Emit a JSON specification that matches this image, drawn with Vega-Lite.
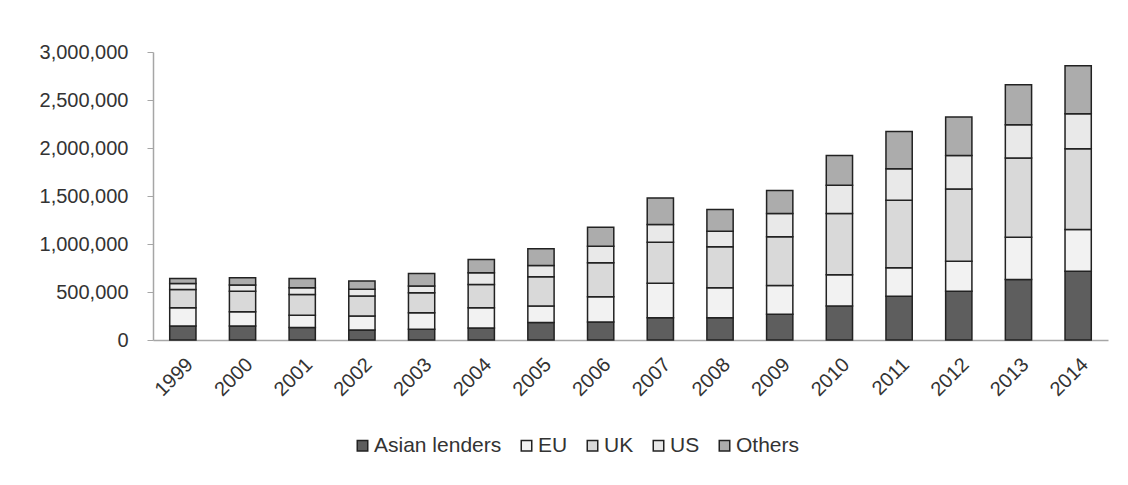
{
  "$schema": "https://vega.github.io/schema/vega-lite/v6.json",
  "autosize": "none",
  "width": 955,
  "height": 288,
  "padding": {"left": 153, "top": 52, "right": 20, "bottom": 145},
  "background": "white",
  "config": {
    "view": {"stroke": null},
    "font": "Liberation Sans",
    "axis": {"labelFont": "Liberation Sans", "labelColor": "#333333", "labelFontSize": 20, "domainColor": "#a6a6a6", "tickColor": "#a6a6a6", "grid": false, "title": null},
    "legend": {"labelFont": "Liberation Sans", "labelColor": "#333333", "labelFontSize": 21}
  },
  "data": {
    "values": [
      {"year": "1999", "lender": "Asian lenders", "k": 1, "value": 146000},
      {"year": "1999", "lender": "EU", "k": 2, "value": 191000},
      {"year": "1999", "lender": "UK", "k": 3, "value": 190000},
      {"year": "1999", "lender": "US", "k": 4, "value": 62000},
      {"year": "1999", "lender": "Others", "k": 5, "value": 52000},
      {"year": "2000", "lender": "Asian lenders", "k": 1, "value": 146000},
      {"year": "2000", "lender": "EU", "k": 2, "value": 149000},
      {"year": "2000", "lender": "UK", "k": 3, "value": 214000},
      {"year": "2000", "lender": "US", "k": 4, "value": 63000},
      {"year": "2000", "lender": "Others", "k": 5, "value": 77000},
      {"year": "2001", "lender": "Asian lenders", "k": 1, "value": 129000},
      {"year": "2001", "lender": "EU", "k": 2, "value": 128000},
      {"year": "2001", "lender": "UK", "k": 3, "value": 218000},
      {"year": "2001", "lender": "US", "k": 4, "value": 70000},
      {"year": "2001", "lender": "Others", "k": 5, "value": 96000},
      {"year": "2002", "lender": "Asian lenders", "k": 1, "value": 104000},
      {"year": "2002", "lender": "EU", "k": 2, "value": 146000},
      {"year": "2002", "lender": "UK", "k": 3, "value": 208000},
      {"year": "2002", "lender": "US", "k": 4, "value": 70000},
      {"year": "2002", "lender": "Others", "k": 5, "value": 86000},
      {"year": "2003", "lender": "Asian lenders", "k": 1, "value": 111000},
      {"year": "2003", "lender": "EU", "k": 2, "value": 174000},
      {"year": "2003", "lender": "UK", "k": 3, "value": 208000},
      {"year": "2003", "lender": "US", "k": 4, "value": 69000},
      {"year": "2003", "lender": "Others", "k": 5, "value": 132000},
      {"year": "2004", "lender": "Asian lenders", "k": 1, "value": 125000},
      {"year": "2004", "lender": "EU", "k": 2, "value": 212000},
      {"year": "2004", "lender": "UK", "k": 3, "value": 242000},
      {"year": "2004", "lender": "US", "k": 4, "value": 121000},
      {"year": "2004", "lender": "Others", "k": 5, "value": 139000},
      {"year": "2005", "lender": "Asian lenders", "k": 1, "value": 181000},
      {"year": "2005", "lender": "EU", "k": 2, "value": 172000},
      {"year": "2005", "lender": "UK", "k": 3, "value": 306000},
      {"year": "2005", "lender": "US", "k": 4, "value": 117000},
      {"year": "2005", "lender": "Others", "k": 5, "value": 174000},
      {"year": "2006", "lender": "Asian lenders", "k": 1, "value": 187000},
      {"year": "2006", "lender": "EU", "k": 2, "value": 264000},
      {"year": "2006", "lender": "UK", "k": 3, "value": 354000},
      {"year": "2006", "lender": "US", "k": 4, "value": 172000},
      {"year": "2006", "lender": "Others", "k": 5, "value": 198000},
      {"year": "2007", "lender": "Asian lenders", "k": 1, "value": 233000},
      {"year": "2007", "lender": "EU", "k": 2, "value": 357000},
      {"year": "2007", "lender": "UK", "k": 3, "value": 429000},
      {"year": "2007", "lender": "US", "k": 4, "value": 184000},
      {"year": "2007", "lender": "Others", "k": 5, "value": 277000},
      {"year": "2008", "lender": "Asian lenders", "k": 1, "value": 233000},
      {"year": "2008", "lender": "EU", "k": 2, "value": 312000},
      {"year": "2008", "lender": "UK", "k": 3, "value": 426000},
      {"year": "2008", "lender": "US", "k": 4, "value": 162000},
      {"year": "2008", "lender": "Others", "k": 5, "value": 226000},
      {"year": "2009", "lender": "Asian lenders", "k": 1, "value": 267000},
      {"year": "2009", "lender": "EU", "k": 2, "value": 302000},
      {"year": "2009", "lender": "UK", "k": 3, "value": 506000},
      {"year": "2009", "lender": "US", "k": 4, "value": 242000},
      {"year": "2009", "lender": "Others", "k": 5, "value": 239000},
      {"year": "2010", "lender": "Asian lenders", "k": 1, "value": 353000},
      {"year": "2010", "lender": "EU", "k": 2, "value": 327000},
      {"year": "2010", "lender": "UK", "k": 3, "value": 637000},
      {"year": "2010", "lender": "US", "k": 4, "value": 294000},
      {"year": "2010", "lender": "Others", "k": 5, "value": 312000},
      {"year": "2011", "lender": "Asian lenders", "k": 1, "value": 457000},
      {"year": "2011", "lender": "EU", "k": 2, "value": 295000},
      {"year": "2011", "lender": "UK", "k": 3, "value": 703000},
      {"year": "2011", "lender": "US", "k": 4, "value": 330000},
      {"year": "2011", "lender": "Others", "k": 5, "value": 388000},
      {"year": "2012", "lender": "Asian lenders", "k": 1, "value": 509000},
      {"year": "2012", "lender": "EU", "k": 2, "value": 312000},
      {"year": "2012", "lender": "UK", "k": 3, "value": 753000},
      {"year": "2012", "lender": "US", "k": 4, "value": 349000},
      {"year": "2012", "lender": "Others", "k": 5, "value": 399000},
      {"year": "2013", "lender": "Asian lenders", "k": 1, "value": 631000},
      {"year": "2013", "lender": "EU", "k": 2, "value": 440000},
      {"year": "2013", "lender": "UK", "k": 3, "value": 825000},
      {"year": "2013", "lender": "US", "k": 4, "value": 346000},
      {"year": "2013", "lender": "Others", "k": 5, "value": 416000},
      {"year": "2014", "lender": "Asian lenders", "k": 1, "value": 717000},
      {"year": "2014", "lender": "EU", "k": 2, "value": 433000},
      {"year": "2014", "lender": "UK", "k": 3, "value": 842000},
      {"year": "2014", "lender": "US", "k": 4, "value": 364000},
      {"year": "2014", "lender": "Others", "k": 5, "value": 502000}
    ]
  },
  "mark": {"type": "bar", "stroke": "#222222", "strokeWidth": 1.5},
  "encoding": {
    "x": {
      "field": "year", "type": "ordinal",
      "scale": {"paddingInner": 0.56, "paddingOuter": 0.28},
      "axis": {"labelAngle": -45, "ticks": false, "labelPadding": 14, "domainWidth": 1.5}
    },
    "y": {
      "field": "value", "type": "quantitative", "stack": "zero",
      "scale": {"domain": [0, 3000000], "nice": false},
      "axis": {"values": [0, 500000, 1000000, 1500000, 2000000, 2500000, 3000000], "format": ",d", "tickSize": 6, "labelPadding": 19, "domainWidth": 1.5}
    },
    "color": {
      "field": "lender", "type": "nominal",
      "sort": ["Asian lenders", "EU", "UK", "US", "Others"],
      "scale": {"domain": ["Asian lenders", "EU", "UK", "US", "Others"], "range": ["#5e5e5e", "#f2f2f2", "#d9d9d9", "#e9e9e9", "#acacac"]},
      "legend": {
        "title": null, "orient": "none", "direction": "horizontal",
        "legendX": 199, "legendY": 383,
        "symbolType": "square", "symbolSize": 110, "symbolStrokeColor": "#222222", "symbolStrokeWidth": 1.5,
        "labelOffset": 1, "columnPadding": 14
      }
    },
    "order": {"field": "k", "type": "quantitative", "sort": "ascending"}
  }
}
